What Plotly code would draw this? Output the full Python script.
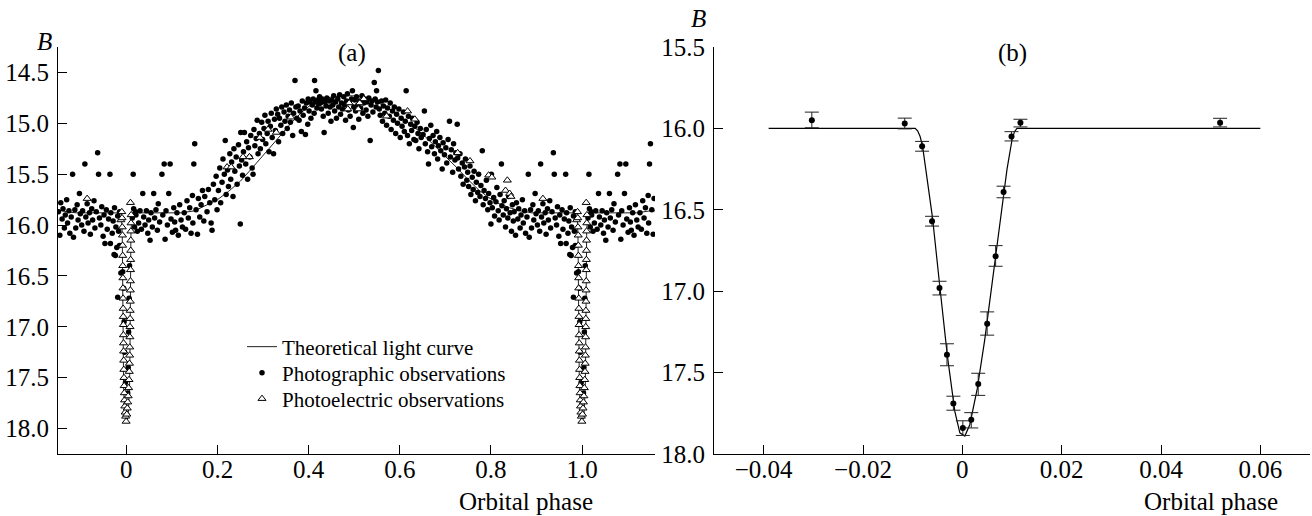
import plotly.graph_objects as go

# ---------------- data ----------------
# Panel (a): theoretical light curve (phase, B)
th_phase = [-0.15, -0.13, -0.11, -0.011, -0.009, -0.008, -0.007, -0.006, -0.003, 0.0,
            0.004, 0.007, 0.008, 0.009, 0.010, 0.012, 0.12, 0.15, 0.178, 0.20,
            0.224, 0.25, 0.27, 0.29, 0.315, 0.34, 0.361, 0.385, 0.407, 0.43,
            0.452, 0.475, 0.498, 0.52, 0.544, 0.567, 0.59, 0.612, 0.635, 0.658,
            0.681, 0.704, 0.726, 0.749, 0.772, 0.795, 0.818, 0.841, 0.864, 0.89,
            0.989, 0.991, 0.992, 0.993, 0.994, 0.997, 1.0, 1.004, 1.007, 1.008,
            1.009, 1.010, 1.012, 1.12, 1.15, 1.16]
th_B = [15.85, 15.87, 15.88, 15.88, 16.10, 16.60, 17.20, 17.60, 17.88, 17.93,
        17.88, 17.60, 17.20, 16.60, 16.10, 15.88, 15.88, 15.86, 15.80, 15.75,
        15.67, 15.57, 15.47, 15.37, 15.24, 15.11, 15.00, 14.89, 14.81, 14.76,
        14.74, 14.73, 14.73, 14.745, 14.78, 14.83, 14.90, 14.97, 15.05, 15.14,
        15.24, 15.34, 15.44, 15.55, 15.65, 15.73, 15.79, 15.83, 15.86, 15.88,
        15.88, 16.10, 16.60, 17.20, 17.60, 17.88, 17.93, 17.88, 17.60, 17.20,
        16.60, 16.10, 15.88, 15.88, 15.86, 15.86]

# Panel (a): photographic observations (phase, B), one cycle
photo_obs = [
    (-0.035, 16.18), (-0.027, 16.29), (-0.024, 16.30), (-0.019, 16.71), (-0.015, 16.20),
    (-0.012, 16.47), (-0.008, 16.46), (-0.006, 16.62), (-0.005, 16.95), (-0.004, 17.25),
    (-0.002, 17.55), (0.003, 17.65), (0.004, 17.40), (0.005, 17.05), (0.006, 16.72), (0.007, 16.40),
    (0.013, 15.93), (0.015, 15.50), (0.016, 15.84), (0.018, 16.02), (0.020, 15.87), (0.021, 15.90),
    (0.024, 16.06), (0.027, 15.98), (0.030, 15.86), (0.033, 16.04), (0.036, 15.69), (0.038, 15.92),
    (0.041, 16.00), (0.044, 15.86), (0.047, 16.08), (0.049, 15.95), (0.052, 16.15), (0.054, 15.88),
    (0.057, 16.02), (0.060, 15.69), (0.062, 15.93), (0.065, 15.85), (0.068, 16.05), (0.070, 15.79),
    (0.073, 15.97), (0.078, 15.50), (0.080, 15.90), (0.083, 15.40), (0.085, 16.14), (0.087, 15.86),
    (0.090, 16.00), (0.093, 15.69), (0.096, 15.40), (0.098, 15.94), (0.101, 16.07), (0.104, 15.83),
    (0.106, 15.97), (0.108, 16.05), (0.111, 15.88), (0.114, 16.10), (0.117, 15.80), (0.120, 15.95),
    (0.123, 16.02), (0.127, 15.88), (0.130, 16.04), (0.133, 15.76), (0.136, 15.93), (0.139, 15.83),
    (0.142, 16.08), (0.145, 15.71), (0.146, 15.98), (0.148, 15.40), (0.150, 15.20), (0.153, 15.85),
    (0.156, 16.09), (0.158, 15.74), (0.161, 15.92), (0.164, 15.80), (0.167, 15.66), (0.170, 15.96),
    (0.172, 15.72), (0.177, 15.87), (0.180, 15.65), (0.183, 15.78), (0.186, 15.98), (0.188, 16.05),
    (0.191, 15.60), (0.194, 15.75), (0.197, 15.52), (0.199, 15.85), (0.202, 15.66), (0.205, 15.44),
    (0.207, 15.78), (0.210, 15.58), (0.212, 15.35), (0.215, 15.50), (0.217, 15.17), (0.219, 15.70),
    (0.222, 15.46), (0.224, 15.62), (0.227, 15.30), (0.229, 15.55), (0.231, 15.38), (0.234, 15.72),
    (0.236, 15.25), (0.238, 15.47), (0.241, 15.33), (0.243, 15.60), (0.246, 15.21), (0.248, 15.42),
    (0.250, 15.99), (0.251, 15.09), (0.253, 15.36), (0.255, 15.51), (0.257, 15.28), (0.259, 15.09),
    (0.262, 15.40), (0.264, 15.18), (0.266, 15.55), (0.268, 15.24), (0.271, 15.33), (0.273, 15.12),
    (0.276, 15.44), (0.278, 15.50), (0.280, 15.06), (0.282, 15.22), (0.285, 15.15), (0.287, 14.97),
    (0.289, 15.30), (0.292, 15.10), (0.294, 15.25), (0.297, 14.99), (0.299, 15.16), (0.302, 15.05),
    (0.304, 14.92), (0.306, 15.20), (0.309, 15.10), (0.311, 14.98), (0.313, 15.28), (0.316, 15.03),
    (0.318, 14.90), (0.320, 15.14), (0.323, 15.30), (0.325, 14.96), (0.327, 15.07), (0.329, 14.86),
    (0.332, 14.91), (0.334, 15.18), (0.336, 14.95), (0.339, 15.02), (0.341, 14.84), (0.343, 15.10),
    (0.346, 14.89), (0.348, 14.98), (0.351, 14.82), (0.353, 15.05), (0.355, 14.93), (0.358, 14.87),
    (0.360, 14.99), (0.362, 14.80), (0.365, 15.12), (0.367, 14.90), (0.370, 14.58), (0.372, 14.84),
    (0.374, 14.95), (0.377, 14.83), (0.379, 14.97), (0.381, 14.88), (0.384, 15.08), (0.386, 14.78),
    (0.388, 14.92), (0.391, 14.85), (0.393, 15.11), (0.395, 14.80), (0.398, 15.01), (0.399, 14.76),
    (0.401, 14.88), (0.403, 14.79), (0.405, 14.95), (0.408, 14.82), (0.410, 14.76), (0.412, 14.90),
    (0.413, 14.58), (0.415, 14.79), (0.416, 14.68), (0.418, 14.85), (0.420, 14.77), (0.422, 14.81),
    (0.424, 14.74), (0.426, 14.80), (0.428, 14.86), (0.430, 14.76), (0.432, 14.93), (0.434, 15.09),
    (0.436, 14.79), (0.438, 14.83), (0.440, 14.75), (0.443, 14.90), (0.445, 14.78), (0.447, 14.84),
    (0.449, 14.98), (0.451, 14.77), (0.453, 14.82), (0.455, 14.73), (0.457, 14.88), (0.459, 14.79),
    (0.461, 14.95), (0.464, 14.76), (0.466, 14.84), (0.468, 14.72), (0.470, 14.91), (0.472, 14.80),
    (0.474, 14.86), (0.477, 14.74), (0.479, 14.82), (0.481, 14.97), (0.483, 14.78), (0.485, 14.71),
    (0.487, 14.87), (0.489, 14.79), (0.491, 14.93), (0.494, 14.76), (0.496, 14.68), (0.498, 15.04),
    (0.499, 14.84), (0.501, 14.77), (0.503, 14.88), (0.505, 14.74), (0.508, 14.82), (0.510, 14.96),
    (0.512, 14.78), (0.514, 14.85), (0.517, 14.73), (0.519, 14.90), (0.521, 14.80), (0.523, 14.76),
    (0.526, 14.87), (0.528, 14.79), (0.530, 14.93), (0.532, 14.75), (0.535, 15.17), (0.537, 14.82),
    (0.539, 14.78), (0.541, 14.89), (0.544, 14.60), (0.546, 14.76), (0.548, 14.84), (0.549, 14.68),
    (0.551, 14.79), (0.553, 14.48), (0.555, 14.86), (0.557, 14.92), (0.560, 14.78), (0.562, 14.98),
    (0.564, 14.83), (0.567, 14.90), (0.569, 14.77), (0.571, 15.02), (0.573, 14.85), (0.577, 14.93),
    (0.579, 14.80), (0.581, 15.06), (0.584, 14.88), (0.586, 14.97), (0.588, 14.84), (0.591, 15.10),
    (0.593, 14.91), (0.595, 15.00), (0.598, 14.86), (0.601, 15.14), (0.603, 14.95), (0.605, 15.03),
    (0.608, 14.89), (0.610, 15.08), (0.612, 14.98), (0.614, 14.68), (0.617, 15.12), (0.619, 14.93),
    (0.621, 15.20), (0.624, 15.01), (0.626, 15.07), (0.628, 14.95), (0.631, 15.16), (0.633, 15.03),
    (0.635, 15.17), (0.638, 14.99), (0.640, 15.10), (0.642, 15.25), (0.645, 15.05), (0.647, 15.14),
    (0.651, 15.11), (0.654, 14.88), (0.656, 15.20), (0.658, 15.06), (0.661, 15.28), (0.663, 15.40),
    (0.665, 15.15), (0.668, 15.02), (0.670, 15.23), (0.673, 15.12), (0.676, 15.30), (0.678, 15.18),
    (0.681, 15.08), (0.683, 15.35), (0.685, 15.22), (0.688, 15.14), (0.690, 15.27), (0.693, 15.45),
    (0.695, 15.19), (0.698, 15.31), (0.701, 15.24), (0.703, 15.39), (0.706, 15.16), (0.709, 14.98),
    (0.711, 15.33), (0.713, 15.26), (0.716, 15.48), (0.718, 15.20), (0.721, 15.36), (0.723, 15.29),
    (0.726, 15.01), (0.727, 15.34), (0.729, 15.45), (0.732, 15.30), (0.734, 15.52), (0.737, 15.39),
    (0.739, 15.60), (0.742, 15.43), (0.744, 15.35), (0.747, 15.56), (0.749, 15.48), (0.751, 15.62),
    (0.754, 15.42), (0.756, 15.70), (0.759, 15.53), (0.761, 15.65), (0.763, 15.47), (0.766, 15.76),
    (0.768, 15.58), (0.771, 15.68), (0.773, 15.50), (0.776, 15.72), (0.778, 15.61), (0.781, 15.27),
    (0.783, 15.80), (0.785, 15.66), (0.788, 15.74), (0.790, 15.56), (0.793, 15.85), (0.795, 15.69),
    (0.798, 15.78), (0.800, 15.99), (0.801, 15.50), (0.803, 15.83), (0.806, 15.73), (0.808, 15.91),
    (0.811, 15.77), (0.813, 15.63), (0.816, 15.86), (0.818, 15.95), (0.820, 15.70), (0.823, 15.40),
    (0.824, 15.81), (0.827, 15.90), (0.829, 15.76), (0.832, 16.02), (0.834, 15.84), (0.837, 15.93),
    (0.839, 15.72), (0.842, 15.88), (0.845, 16.06), (0.847, 15.80), (0.849, 15.96), (0.851, 15.87),
    (0.854, 16.10), (0.856, 15.78), (0.859, 15.94), (0.861, 15.84), (0.864, 16.03), (0.866, 15.90),
    (0.869, 15.75), (0.871, 15.98), (0.874, 15.86), (0.876, 16.08), (0.879, 15.92), (0.882, 15.50),
    (0.884, 16.12), (0.887, 15.85), (0.889, 16.03), (0.892, 15.80), (0.894, 15.95), (0.897, 15.69),
    (0.899, 15.89), (0.902, 16.00), (0.904, 15.86), (0.907, 16.06), (0.909, 15.40), (0.911, 15.92),
    (0.914, 15.79), (0.916, 15.98), (0.919, 15.88), (0.921, 16.09), (0.924, 15.84), (0.926, 15.95),
    (0.929, 15.76), (0.931, 16.03), (0.934, 15.87), (0.937, 15.29), (0.939, 15.50), (0.941, 15.93),
    (0.944, 16.00), (0.946, 15.82), (0.949, 16.11), (0.951, 15.90), (0.953, 16.18), (0.956, 15.85),
    (0.958, 16.04), (0.961, 15.94), (0.964, 15.50), (0.966, 15.88), (0.969, 16.08), (0.971, 15.96),
    (0.974, 15.83), (0.977, 16.02), (0.979, 16.22), (0.981, 15.91), (0.983, 16.06), (0.985, 15.87),
]

# Panel (a): photoelectric observations (phase, B), one cycle
pe_obs = [
    (-0.0120, 15.95), (-0.0100, 15.87), (-0.0095, 15.93), (-0.0090, 16.02), (-0.0085, 16.10),
    (-0.0082, 16.20), (-0.0080, 16.30), (-0.0078, 16.40), (-0.0076, 16.52), (-0.0074, 16.62),
    (-0.0072, 16.72), (-0.0070, 16.82), (-0.0068, 16.90), (-0.0066, 16.98), (-0.0064, 17.08),
    (-0.0062, 17.16), (-0.0060, 17.24), (-0.0058, 17.33), (-0.0055, 17.42), (-0.0052, 17.50),
    (-0.0048, 17.58), (-0.0044, 17.65), (-0.0040, 17.72), (-0.0034, 17.78), (-0.0026, 17.84),
    (-0.0016, 17.88), (-0.0005, 17.93), (0.0010, 17.86), (0.0020, 17.80), (0.0030, 17.74),
    (0.0040, 17.68), (0.0050, 17.60), (0.0058, 17.52), (0.0064, 17.44), (0.0068, 17.36),
    (0.0072, 17.28), (0.0075, 17.20), (0.0078, 17.10), (0.0080, 17.00), (0.0082, 16.92),
    (0.0084, 16.84), (0.0086, 16.75), (0.0088, 16.64), (0.0090, 16.55), (0.0092, 16.44),
    (0.0094, 16.34), (0.0096, 16.25), (0.0098, 16.15), (0.0100, 16.06), (0.0103, 15.98),
    (0.0106, 15.90), (0.0090, 15.78),
    (0.221, 15.43), (0.230, 15.43), (0.256, 15.33), (0.270, 15.33), (0.293, 15.14),
    (0.311, 15.06), (0.329, 15.09), (0.361, 14.94), (0.486, 14.86), (0.489, 14.80),
    (0.509, 14.86), (0.512, 14.80), (0.521, 14.76), (0.571, 14.93), (0.617, 14.88),
    (0.633, 14.96), (0.727, 15.29), (0.754, 15.37), (0.795, 15.51), (0.802, 15.53),
    (0.832, 15.66), (0.836, 15.56), (0.841, 15.69), (0.844, 15.72), (0.914, 15.74),
]

# Panel (b): eclipse model curve
ecl_phase = [-0.039, -0.0095, -0.0090, -0.0085, -0.0080, -0.0070, -0.0060, -0.0045, -0.0030,
             -0.0015, -0.0005, 0.0005, 0.0015, 0.0030, 0.0045, 0.0060, 0.0075, 0.0090,
             0.0100, 0.0105, 0.0110, 0.060]
ecl_B = [16.00, 16.00, 16.015, 16.05, 16.11, 16.32, 16.55, 16.98, 17.40,
         17.74, 17.87, 17.89, 17.82, 17.60, 17.30, 16.95, 16.60, 16.25,
         16.07, 16.02, 16.00, 16.00]

# Panel (b): mean observed points with error bars
obs_phase = [-0.0303, -0.0116, -0.0081, -0.0061, -0.0046, -0.0031, -0.0018, 0.0001,
             0.0018, 0.0032, 0.0050, 0.0067, 0.0083, 0.0099, 0.0117, 0.0519]
obs_B = [15.95, 15.97, 16.11, 16.57, 16.98, 17.39, 17.69, 17.84,
         17.79, 17.57, 17.20, 16.785, 16.39, 16.05, 15.965, 15.965]
obs_err_minus = [0.050, 0.033, 0.030, 0.030, 0.041, 0.067, 0.045, 0.044,
                 0.044, 0.066, 0.073, 0.065, 0.035, 0.030, 0.021, 0.027]
obs_err_plus = [0.046, 0.033, 0.030, 0.030, 0.043, 0.068, 0.041, 0.046,
                0.050, 0.070, 0.070, 0.062, 0.036, 0.027, 0.026, 0.026]

a_xticks = [0, 0.2, 0.4, 0.6, 0.8, 1.0]
a_xticktext = ["0", "0.2", "0.4", "0.6", "0.8", "1.0"]
a_yticks = [14.5, 15.0, 15.5, 16.0, 16.5, 17.0, 17.5, 18.0]
a_yticktext = ["14.5", "15.0", "15.5", "16.0", "16.5", "17.0", "17.5", "18.0"]
b_xticks = [-0.04, -0.02, 0, 0.02, 0.04, 0.06]
b_xticktext = ["\u22120.04", "\u22120.02", "0", "0.02", "0.04", "0.06"]
b_yticks = [15.5, 16.0, 16.5, 17.0, 17.5, 18.0]
b_yticktext = ["15.5", "16.0", "16.5", "17.0", "17.5", "18.0"]

# ---------------- figure ----------------
W, H = 1312, 516
FONT = "Liberation Serif, Times New Roman, serif"


def fx(p):
    return p / W


def fy(p):
    return 1 - p / H


def fold(obs, lo=-0.15, hi=1.16):
    xs, ys = [], []
    for p, b in obs:
        for s in (-1, 0, 1):
            q = p + s
            if lo <= q <= hi:
                xs.append(q)
                ys.append(b)
    return xs, ys


ph_x, ph_y = fold(photo_obs)
pe_x, pe_y = fold(pe_obs)

fig = go.Figure()
fig.add_trace(go.Scatter(x=th_phase, y=th_B, mode="lines", name="Theoretical light curve",
                         line=dict(color="#222", width=1), xaxis="x", yaxis="y",
                         legend="legend"))
fig.add_trace(go.Scatter(x=ph_x, y=ph_y, mode="markers", name="Photographic observations",
                         marker=dict(symbol="circle", size=5.5, color="black"),
                         xaxis="x", yaxis="y", legend="legend2"))
fig.add_trace(go.Scatter(x=pe_x, y=pe_y, mode="markers", name="Photoelectric observations",
                         marker=dict(symbol="triangle-up", size=7, color="white",
                                     line=dict(color="black", width=1)),
                         xaxis="x", yaxis="y", legend="legend3"))
fig.add_trace(go.Scatter(x=ecl_phase, y=ecl_B, mode="lines", showlegend=False,
                         line=dict(color="black", width=1.2), xaxis="x2", yaxis="y2"))
fig.add_trace(go.Scatter(x=obs_phase, y=obs_B, mode="markers", showlegend=False,
                         marker=dict(symbol="circle", size=6, color="black"),
                         error_y=dict(type="data", symmetric=False, array=obs_err_plus,
                                      arrayminus=obs_err_minus, color="#222",
                                      thickness=1, width=7),
                         xaxis="x2", yaxis="y2"))

axis_common = dict(showline=True, linecolor="black", linewidth=1, ticks="inside",
                   ticklen=9, tickwidth=1, tickcolor="black", showgrid=False,
                   zeroline=False, mirror=False, automargin=False,
                   tickfont=dict(family=FONT, size=25, color="black"))

legend_common = dict(xanchor="left", yanchor="middle", bgcolor="rgba(0,0,0,0)",
                     borderwidth=0, font=dict(family=FONT, size=21, color="black"))

fig.update_layout(
    template="none",
    width=W, height=H,
    margin=dict(l=0, r=0, t=0, b=0, pad=0, autoexpand=False),
    paper_bgcolor="white", plot_bgcolor="white",
    font=dict(family=FONT, color="black"),
    xaxis=dict(domain=[fx(58), fx(655)], range=[-0.15, 1.16], anchor="y",
               tickmode="array", tickvals=a_xticks, ticktext=a_xticktext,
               ticklabelstandoff=-7, **axis_common),
    yaxis=dict(domain=[fy(454), fy(47)], range=[18.25, 14.25], anchor="x",
               tickmode="array", tickvals=a_yticks, ticktext=a_yticktext,
               ticklabelstandoff=3, **axis_common),
    xaxis2=dict(domain=[fx(714), fx(1310)], range=[-0.05, 0.07], anchor="y2",
                tickmode="array", tickvals=b_xticks, ticktext=b_xticktext,
                ticklabelstandoff=-7, **axis_common),
    yaxis2=dict(domain=[fy(454), fy(47)], range=[18.0, 15.5], anchor="x2",
                tickmode="array", tickvals=b_yticks, ticktext=b_yticktext,
                ticklabelstandoff=3, **axis_common),
    legend=dict(x=fx(242), y=fy(347), **legend_common),
    legend2=dict(x=fx(242), y=fy(373), **legend_common),
    legend3=dict(x=fx(242), y=fy(399), **legend_common),
    showlegend=True,
)

annots = [
    dict(text="<i>B</i>", x=fx(44), y=fy(41), size=25),
    dict(text="<i>B</i>", x=fx(698), y=fy(19), size=25),
    dict(text="(a)", x=fx(352), y=fy(53), size=25),
    dict(text="(b)", x=fx(1012), y=fy(53), size=25),
]
for a in annots:
    fig.add_annotation(text=a["text"], x=a["x"], y=a["y"], xref="paper", yref="paper",
                       xanchor="center", yanchor="middle", showarrow=False,
                       font=dict(family=FONT, size=a["size"], color="black"))
for xr in (595, 1280):
    fig.add_annotation(text="Orbital phase", x=fx(xr), y=fy(501), xref="paper", yref="paper",
                       xanchor="right", yanchor="middle", showarrow=False,
                       font=dict(family=FONT, size=25, color="black"))

fig.write_html("out.html")
